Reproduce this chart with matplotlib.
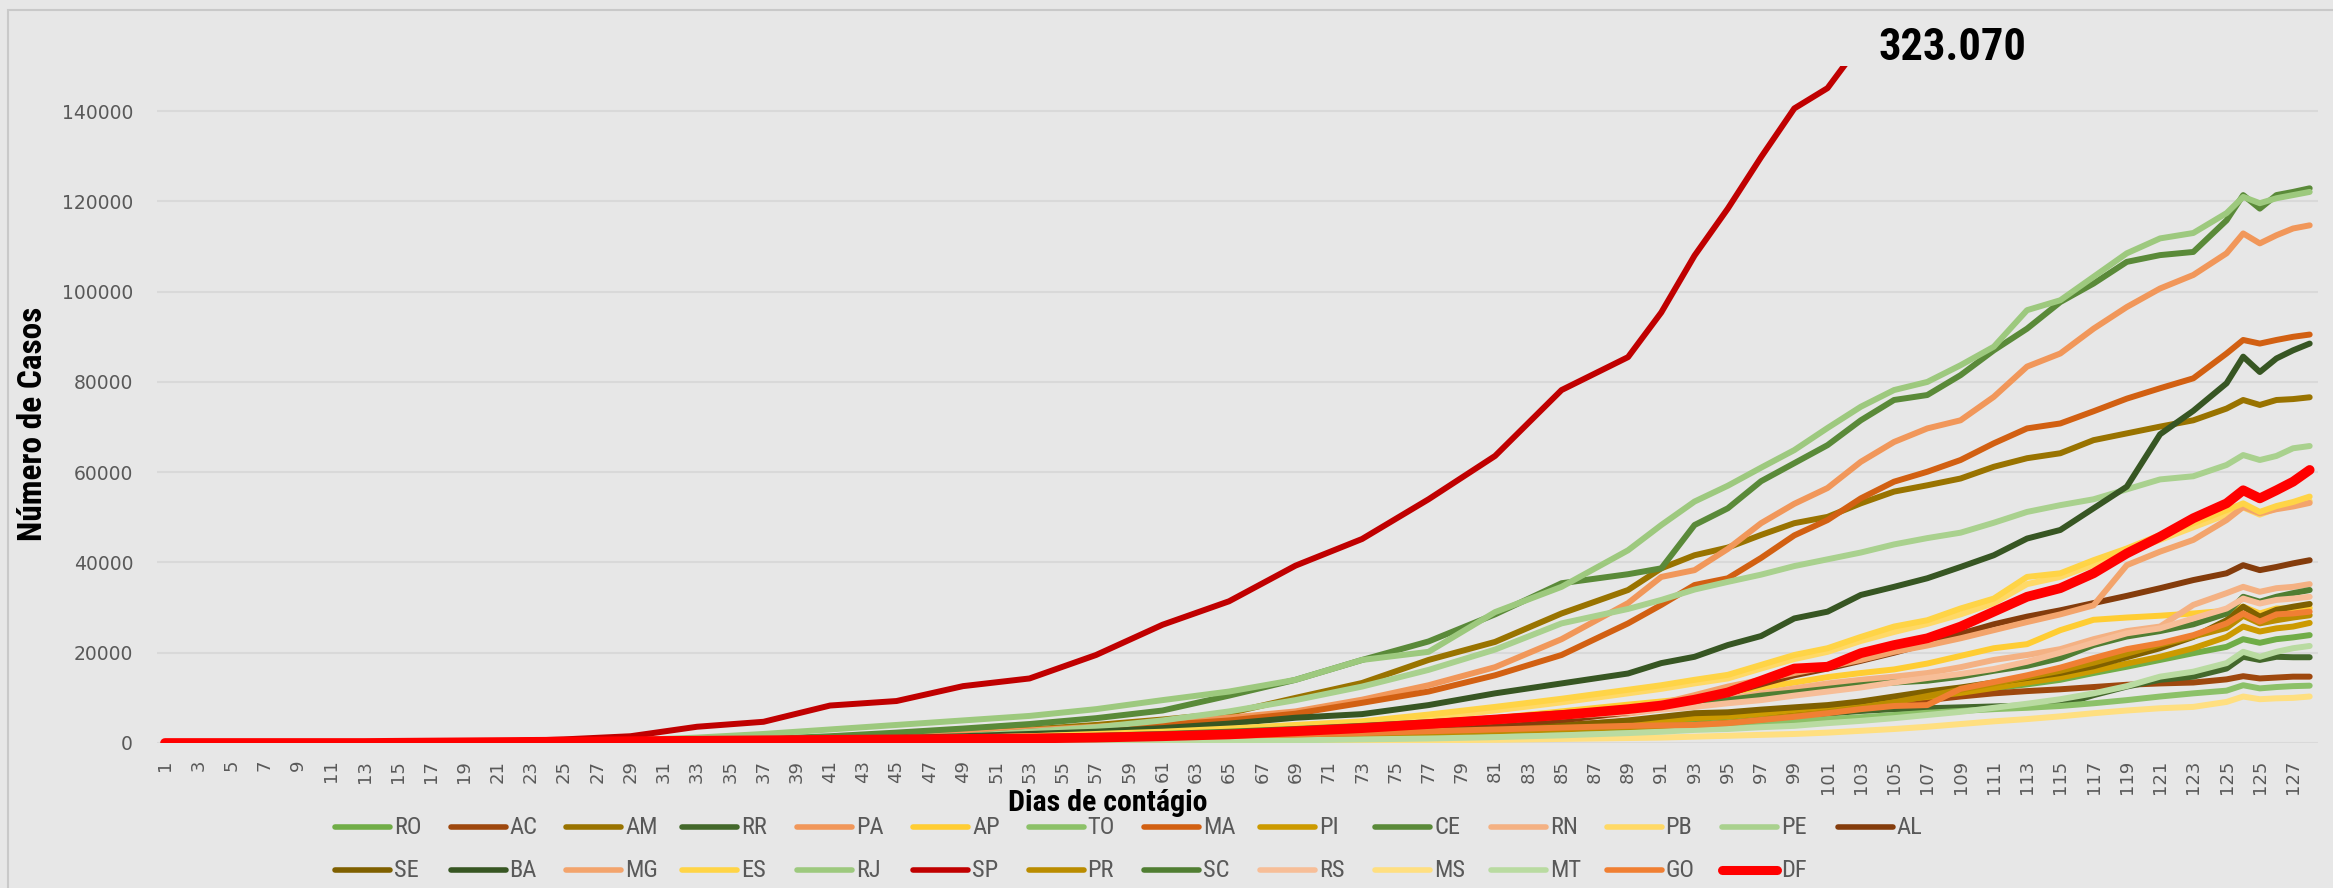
import os
import matplotlib
matplotlib.use("Agg")
import matplotlib.pyplot as plt
from matplotlib import font_manager
from matplotlib.lines import Line2D
from matplotlib.patches import Rectangle

# category positions where values were read (1..130), values in thousands of cases
idx = [1, 5, 9, 13, 17, 21, 25, 29, 33, 37, 41, 45, 49, 53, 57, 61, 65, 69, 73, 77, 81, 85, 89,
       91, 93, 95, 97, 99, 101, 103, 105, 107, 109, 111, 113, 115, 117, 119, 121, 123, 125,
       126, 127, 128, 129, 130]

# day labels of the 130 categories (the source repeats 125..128 at the end)
day_labels = list(range(1, 127)) + [125, 126, 127, 128]

RO = [0, 0, 0, 0, 0, 0, 0, 0, 0, 0, 0, 0.1, 0.1, 0.2, 0.3, 0.4, 0.6, 0.9, 1.3, 1.9, 2.6, 3.4, 4.3,
      4.8, 5.3, 5.8, 6.5, 7.1, 7.8, 8.6, 9.5, 10.5, 11.3, 12.1, 13, 14, 15.5, 16.9, 18.4, 19.9, 21.3, 23, 22.2, 23, 23.4, 23.9]
AC = [0, 0, 0, 0, 0, 0, 0, 0, 0, 0, 0.1, 0.1, 0.2, 0.3, 0.4, 0.6, 0.9, 1.3, 1.8, 2.5, 3.2, 4, 4.8,
      5.3, 5.8, 6.3, 6.7, 7.1, 7.5, 8.1, 8.8, 9.5, 10.3, 11, 11.5, 11.9, 12.4, 12.9, 13.2, 13.4, 14.1, 14.8, 14.3, 14.5, 14.7, 14.7]
AM = [0, 0, 0, 0, 0, 0, 0, 0.1, 0.2, 0.5, 1.1, 1.8, 2.4, 3, 4, 5.2, 6.6, 10, 13.3, 18.4, 22.4, 28.7, 33.9,
      38.7, 41.6, 43.3, 46.1, 48.7, 50.1, 53.1, 55.7, 57.1, 58.6, 61.2, 63.1, 64.2, 67.1, 68.6, 70.1, 71.5, 74.1, 76, 74.9, 76, 76.2, 76.6]
RR = [0, 0, 0, 0, 0, 0, 0, 0, 0, 0, 0, 0, 0.1, 0.1, 0.2, 0.3, 0.4, 0.6, 0.9, 1.3, 1.8, 2.5, 3.2,
      3.6, 4, 4.4, 5.1, 5.8, 6.5, 7.1, 7.5, 7.7, 7.9, 8.1, 8.3, 8.4, 10.6, 12.5, 14, 14.7, 16.5, 19.1, 18.4, 19.1, 19, 19]
PA = [0, 0, 0, 0, 0, 0, 0, 0.1, 0.2, 0.4, 0.8, 1.3, 2, 2.8, 3.6, 4.5, 5.6, 7, 9.6, 12.8, 16.8, 23, 31,
      36.8, 38.3, 43, 48.7, 53, 56.5, 62.3, 66.7, 69.7, 71.5, 76.7, 83.4, 86.3, 91.8, 96.6, 100.7, 103.7, 108.5, 112.9, 110.7, 112.5, 114, 114.7]
AP = [0, 0, 0, 0, 0, 0, 0, 0, 0, 0.1, 0.2, 0.3, 0.5, 0.7, 1, 1.5, 2, 2.8, 3.5, 4.5, 5.5, 7, 8.5,
      9.2, 9.9, 11.2, 12.3, 13.4, 14.6, 15.5, 16.3, 17.6, 19.3, 21, 21.9, 25, 27.3, 27.8, 28.2, 28.7, 29.3, 30.2, 28.7, 29.8, 29.8, 29.9]
TO = [0, 0, 0, 0, 0, 0, 0, 0, 0, 0, 0, 0, 0, 0.1, 0.1, 0.2, 0.3, 0.5, 0.7, 1, 1.5, 2.1, 2.7,
      3.1, 3.6, 3.9, 4.3, 4.9, 5.3, 5.7, 6.2, 6.7, 7.1, 7.5, 7.8, 8.2, 8.8, 9.5, 10.3, 11, 11.6, 12.8, 12.1, 12.4, 12.6, 12.7]
MA = [0, 0, 0, 0, 0, 0, 0, 0.1, 0.1, 0.2, 0.4, 0.8, 1.5, 2.5, 3.2, 4, 5, 6.5, 8.9, 11.4, 15, 19.5, 26.5,
      30.6, 35, 36.5, 41, 46, 49.4, 54.2, 57.9, 60.1, 62.7, 66.4, 69.7, 70.8, 73.5, 76.3, 78.6, 80.8, 86.3, 89.3, 88.5, 89.3, 90, 90.5]
PI = [0, 0, 0, 0, 0, 0, 0, 0, 0, 0, 0.1, 0.1, 0.2, 0.3, 0.4, 0.6, 0.9, 1.3, 1.8, 2.4, 3, 3.8, 4.5,
      5, 5.5, 5.9, 6.5, 7.3, 8, 8.8, 9.5, 10.2, 11.1, 12.2, 13.4, 14.5, 16, 17.6, 19.1, 21, 23.5, 25.8, 24.7, 25.4, 25.8, 26.6]
CE = [0, 0, 0, 0, 0, 0, 0.1, 0.3, 0.5, 0.9, 1.5, 2.3, 3.2, 4.2, 5.5, 7.2, 10.5, 14, 18.4, 22.5, 28.5, 35.4, 37.4,
      38.7, 48.3, 52, 58, 62, 66, 71.5, 76, 77.1, 81.5, 87, 91.8, 97.7, 101.8, 106.6, 108.1, 108.8, 115.8, 121.4, 118.4, 121.4, 122.1, 122.9]
RN = [0, 0, 0, 0, 0, 0, 0, 0, 0, 0.1, 0.2, 0.3, 0.4, 0.6, 0.8, 1, 1.3, 1.7, 2.3, 3, 4, 5.2, 6.5,
      7.5, 9, 9.8, 11, 12.1, 13.2, 14, 14.7, 15.5, 16.8, 18.4, 19.5, 20.8, 23, 24.8, 25.8, 30.6, 33.2, 34.6, 33.5, 34.3, 34.6, 35.2]
PB = [0, 0, 0, 0, 0, 0, 0, 0, 0.1, 0.1, 0.2, 0.3, 0.5, 0.8, 1.2, 1.8, 2.5, 3.3, 4.2, 5.5, 7.2, 9, 11,
      12, 13.2, 14.3, 16.5, 18.6, 20.2, 22.6, 24.6, 26.4, 28.5, 31, 35.2, 36.8, 39.5, 42.3, 45, 47.8, 50.6, 52.2, 50.6, 52, 52.8, 53.6]
PE = [0, 0, 0, 0, 0, 0, 0, 0.1, 0.1, 0.2, 0.5, 1, 1.5, 2.5, 3.5, 5, 7, 9.5, 12.5, 16.2, 20.7, 26.5, 29.7,
      31.7, 34, 35.7, 37.3, 39.2, 40.7, 42.2, 44, 45.4, 46.6, 48.8, 51.2, 52.7, 54, 56.2, 58.4, 59.1, 61.6, 63.8, 62.7, 63.6, 65.3, 65.8]
AL = [0, 0, 0, 0, 0, 0, 0, 0, 0, 0.1, 0.1, 0.2, 0.3, 0.4, 0.6, 0.8, 1.1, 1.5, 2.1, 2.8, 3.8, 5, 6.8,
      8, 9.5, 11, 13, 15, 16.5, 18.2, 20, 22, 24.2, 26.3, 28, 29.4, 31, 32.6, 34.3, 36.1, 37.6, 39.4, 38.3, 39, 39.8, 40.5]
SE = [0, 0, 0, 0, 0, 0, 0, 0, 0, 0, 0, 0.1, 0.1, 0.2, 0.3, 0.4, 0.6, 0.9, 1.3, 1.9, 2.7, 3.8, 5,
      5.8, 6.6, 6.8, 7.4, 7.9, 8.4, 9.2, 10.3, 11.4, 12.3, 13.4, 14.4, 15.5, 17, 19, 21, 23.5, 27.2, 30.2, 28, 29.5, 30.2, 30.8]
BA = [0, 0, 0, 0, 0, 0, 0.1, 0.1, 0.2, 0.4, 0.7, 1.1, 1.5, 2, 2.5, 3.3, 4.3, 5.6, 6.4, 8.4, 11, 13.2, 15.4,
      17.7, 19.1, 21.7, 23.7, 27.6, 29.1, 32.8, 34.6, 36.5, 39, 41.6, 45.3, 47.2, 52, 56.8, 68.4, 73.6, 79.7, 85.6, 82.2, 85.2, 87, 88.5]
MG = [0, 0, 0, 0, 0, 0, 0, 0.1, 0.2, 0.3, 0.6, 0.9, 1.2, 1.5, 1.8, 2.2, 2.6, 3, 3.6, 4.4, 5.3, 6.5, 7.8,
      8.8, 10.6, 12.5, 14, 15.5, 16.9, 18.4, 20.2, 21.6, 23.2, 25, 26.8, 28.5, 30.5, 39.4, 42.4, 45, 49.4, 52.3, 50.9, 51.8, 52.4, 53.2]
ES = [0, 0, 0, 0, 0, 0, 0, 0.1, 0.2, 0.3, 0.5, 0.8, 1.1, 1.5, 2, 2.5, 3.2, 4, 4.8, 6.3, 8, 9.8, 11.8,
      12.8, 14, 15.1, 17.3, 19.5, 21, 23.5, 25.8, 27.2, 29.8, 32, 36.8, 37.6, 40.5, 43.1, 46.1, 48.7, 51.6, 53.1, 51.2, 52.5, 53.4, 54.6]
RJ = [0, 0, 0, 0, 0, 0.1, 0.3, 0.6, 1.2, 2, 3, 4, 5, 6, 7.5, 9.5, 11.4, 14, 18.4, 20.2, 29, 34.6, 42.7,
      48.3, 53.5, 57, 61, 64.9, 69.8, 74.5, 78.2, 80, 83.7, 87.8, 95.9, 98.1, 103.3, 108.5, 111.8, 113, 117.4, 121, 119.6, 120.7, 121.4, 122.1]
SP = [0, 0, 0, 0, 0.1, 0.3, 0.8, 1.5, 3.6, 4.7, 8.3, 9.3, 12.6, 14.3, 19.5, 26.2, 31.4, 39.3, 45.2, 54, 63.6, 78.2, 85.5,
      95.4, 108, 118.4, 129.8, 140.6, 145.1, 155, 170, 180, 190, 200, 212, 222, 235, 245, 260, 272, 290, 300, 296, 305, 314, 323.07]
PR = [0, 0, 0, 0, 0, 0, 0, 0, 0.1, 0.2, 0.4, 0.6, 0.8, 0.9, 1, 1.1, 1.3, 1.5, 1.8, 2.2, 2.6, 3, 3.5,
      3.7, 4, 4.5, 5.2, 6, 6.8, 7.8, 9, 10.4, 11.8, 13.2, 14.6, 16, 17.8, 19.8, 21.8, 23.6, 25.5, 28.2, 26.5, 27.2, 27.8, 28.3]
SC = [0, 0, 0, 0, 0, 0, 0, 0.1, 0.2, 0.4, 0.7, 0.9, 1.1, 1.3, 1.6, 2, 2.5, 3.1, 3.8, 4.6, 5.5, 6.6, 7.5,
      8.1, 8.8, 9.5, 10.5, 11.2, 12, 12.8, 13.4, 13.8, 14.7, 16, 17.1, 18.8, 21.7, 23.6, 24.8, 26.3, 28.7, 32.4, 31.3, 32.4, 33.2, 33.9]
RS = [0, 0, 0, 0, 0, 0, 0, 0.1, 0.2, 0.4, 0.6, 0.8, 1, 1.2, 1.4, 1.7, 2.1, 2.6, 3.2, 4, 4.9, 5.9, 6.8,
      7.4, 8, 8.8, 9.5, 10.5, 11.4, 12.3, 13.4, 14.4, 15.3, 16.4, 18, 20, 22.2, 24.3, 25.4, 27.6, 29.8, 32, 30.9, 31.7, 32, 32.4]
MS = [0, 0, 0, 0, 0, 0, 0, 0, 0, 0.1, 0.1, 0.1, 0.2, 0.2, 0.2, 0.3, 0.3, 0.4, 0.5, 0.6, 0.7, 0.9, 1.1,
      1.2, 1.4, 1.6, 1.8, 2, 2.3, 2.7, 3.1, 3.6, 4.2, 4.8, 5.3, 5.9, 6.6, 7.2, 7.7, 8, 9.1, 10.3, 9.7, 9.9, 10, 10.3]
MT = [0, 0, 0, 0, 0, 0, 0, 0, 0, 0.1, 0.1, 0.1, 0.2, 0.2, 0.3, 0.4, 0.5, 0.6, 0.8, 1, 1.3, 1.7, 2.2,
      2.5, 2.9, 3.1, 3.5, 3.8, 4.4, 4.9, 5.5, 6.2, 6.9, 7.8, 8.7, 9.7, 11, 12.6, 14.7, 15.8, 17.7, 20.2, 19.1, 20.2, 21, 21.5]
GO = [0, 0, 0, 0, 0, 0, 0, 0, 0.1, 0.2, 0.3, 0.5, 0.7, 0.9, 1.1, 1.3, 1.6, 1.9, 2.2, 2.6, 3, 3.4, 3.8,
      3.9, 4, 4.4, 5.1, 5.8, 6.6, 7.5, 8.2, 8.4, 12, 13.5, 15, 16.7, 18.8, 20.8, 22.1, 23.9, 26.5, 28.7, 26.9, 28.5, 28.7, 29.1]
DF = [0, 0, 0, 0, 0.1, 0.2, 0.3, 0.4, 0.5, 0.6, 0.7, 0.8, 0.9, 1, 1.2, 1.5, 1.9, 2.6, 3.3, 4.2, 5.2, 6.2, 7.5,
      8.3, 9.6, 11.2, 13.8, 16.5, 16.9, 19.9, 21.7, 23.2, 25.8, 29.1, 32.4, 34.3, 37.6, 42, 45.7, 49.8, 53.1, 56, 54.2, 56, 57.9, 60.5]

states = ["RO", "AC", "AM", "RR", "PA", "AP", "TO", "MA", "PI", "CE", "RN", "PB", "PE", "AL",
          "SE", "BA", "MG", "ES", "RJ", "SP", "PR", "SC", "RS", "MS", "MT", "GO", "DF"]
values = [RO, AC, AM, RR, PA, AP, TO, MA, PI, CE, RN, PB, PE, AL,
          SE, BA, MG, ES, RJ, SP, PR, SC, RS, MS, MT, GO, DF]
colors = ["#70AD47", "#9E480E", "#997300", "#43682B", "#F1975A", "#FFCD33", "#8CC168",
          "#D26012", "#CC9A00", "#5A8A39", "#F4B183", "#FFD966", "#A9D18E", "#843C0C",
          "#7F6000", "#375623", "#F3A46C", "#FFD446", "#9DC97E", "#C00000", "#BA8C00",
          "#507E32", "#F7BE98", "#FFDF80", "#B9DBA1", "#F07F33", "#FF0000"]
sp_total = "323.070"


def narrow_font(bold):
    # look for a condensed face (Calibri-like look), else a plain sans
    files = [f.fname for f in font_manager.fontManager.ttflist]
    prefs = ["liberationsansnarrow", "robotocondensed", "opensanscond", "dejavusanscondensed",
             "liberationsans-"]
    for p in prefs:
        for fn in sorted(files):
            b = os.path.basename(fn).lower().replace("_", "")
            if not b.startswith(p) or "italic" in b or "oblique" in b:
                continue
            if bold and "bold" in b:
                return font_manager.FontProperties(fname=fn)
            if not bold and "bold" not in b and "light" not in b and "thin" not in b:
                return font_manager.FontProperties(fname=fn)
    return font_manager.FontProperties(family="DejaVu Sans",
                                       weight="bold" if bold else "normal")


bold_fp = narrow_font(True)
reg_fp = narrow_font(False)

W, H = 2333, 888
bg = "#E7E7E7"
fig = plt.figure(figsize=(W / 100, H / 100), dpi=100, facecolor=bg)
renderer = fig.canvas.get_renderer()


def fit(t, target, vertical=False):
    # scale font size so the text spans the wanted number of pixels
    bb = t.get_window_extent(renderer)
    span = bb.height if vertical else bb.width
    t.set_fontsize(t.get_fontsize() * target / span)


# chart border (left and top visible)
fig.add_artist(Rectangle((8 / W, -0.2), 1.2, 1.2 - 10 / H, transform=fig.transFigure,
                         facecolor="none", edgecolor="#C9C9C9", lw=1.5))

ax = fig.add_axes([156.7 / W, 1 - 743 / H, (2318 - 156.7) / W, (743 - 66) / H])
ax.set_facecolor(bg)

for name, vals, col in zip(states, values, colors):
    lw = 7.0 if name == "DF" else 4.3
    ax.plot(idx, [v * 1000 for v in vals], color=col, lw=lw,
            solid_capstyle="round", solid_joinstyle="round")

ax.set_xlim(0.5, 130.5)
ax.set_ylim(0, 150000)
ax.set_yticks(range(0, 140001, 20000))
ax.set_yticklabels([str(v) for v in range(0, 140001, 20000)])
xt = list(range(1, 131, 2))
ax.set_xticks(xt)
ax.set_xticklabels([str(day_labels[i - 1]) for i in xt], rotation=90)
ax.tick_params(axis="y", length=0, pad=17, labelsize=13.5, labelcolor="#595959")
ax.tick_params(axis="x", length=0, pad=12, labelsize=13, labelcolor="#595959")
ax.yaxis.grid(True, color="#D9D9D9", lw=1.5)
ax.set_axisbelow(True)
for s in ax.spines.values():
    s.set_visible(False)

t = fig.text(1952 / W, 1 - 48 / H, sp_total, fontproperties=bold_fp, fontsize=36,
             ha="center", va="center", color="black")
fit(t, 148)
t = fig.text(33 / W, 1 - 424 / H, "Número de Casos", rotation=90, fontproperties=bold_fp,
             fontsize=23, ha="center", va="center", color="black")
fit(t, 235, vertical=True)
t = fig.text(1108 / W, 1 - 803 / H, "Dias de contágio", fontproperties=bold_fp,
             fontsize=21.5, ha="center", va="center", color="black")
fit(t, 200)

# legend: two rows, fixed-width entries like the source
probe = fig.text(0, 0, "MG", fontproperties=reg_fp, fontsize=16)
fit(probe, 33)
leg_size = probe.get_fontsize()
probe.remove()

rows = [states[:14], states[14:]]
row_y = [827, 870]
for r, row in enumerate(rows):
    for i, name in enumerate(row):
        k = states.index(name)
        x0 = 335 + i * 115.6
        y = 1 - row_y[r] / H
        fig.add_artist(Line2D([x0 / W, (x0 + 55) / W], [y, y], transform=fig.transFigure,
                              color=colors[k], lw=6.5 if name == "DF" else 4,
                              solid_capstyle="round"))
        fig.text((x0 + 59) / W, y, name, fontproperties=reg_fp, fontsize=leg_size,
                 color="#595959", ha="left", va="center")

fig.savefig("out.png", dpi=100, facecolor=bg)
